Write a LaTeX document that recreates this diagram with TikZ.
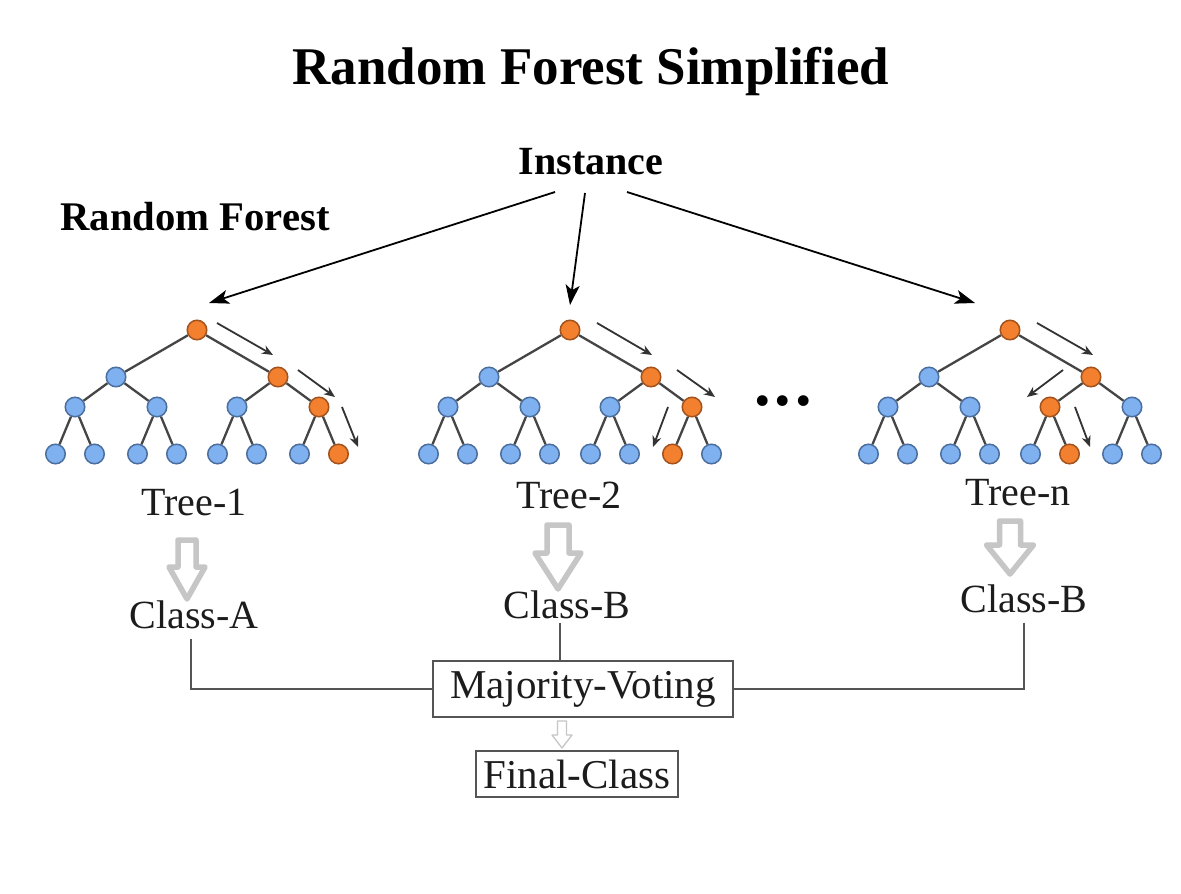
\documentclass[tikz,border=0pt]{standalone}
\usepackage{fontspec}
\setmainfont{Liberation Serif}
\usetikzlibrary{arrows.meta}
\definecolor{bfill}{HTML}{7FB0F0}
\definecolor{bline}{HTML}{4A6E9E}
\definecolor{ofill}{HTML}{F2802E}
\definecolor{oline}{HTML}{A3521E}
\definecolor{edgec}{HTML}{454545}
\definecolor{txt}{HTML}{1C1C1C}
\definecolor{hollow}{HTML}{C6C6C6}
\definecolor{linec}{HTML}{555555}
\tikzset{
  nd/.style={circle, draw=#1line, fill=#1fill, line width=1.5pt, minimum size=19.5pt, inner sep=0pt},
  edge/.style={draw=edgec, line width=2.3pt},
  walk/.style={draw=black!80, line width=1.8pt, -{Stealth[length=11pt,width=9pt]}},
  feed/.style={draw=black, line width=1.8pt, -{Stealth[length=20pt,width=14pt,inset=5pt]}},
  lbl/.style={font=\fontsize{40}{44}\selectfont, text=txt, inner sep=4pt, anchor=base},
  boldlbl/.style={font=\fontsize{40}{44}\selectfont\bfseries, text=black, inner sep=4pt, anchor=base},
  boxed/.style={draw=linec, line width=1.6pt, font=\fontsize{41}{45}\selectfont, text=txt, inner sep=0pt},
  bigarrow/.style={draw=hollow, line width=5.5pt, fill=white, line join=round},
  smallarrow/.style={draw=hollow, line width=1.3pt, fill=white, line join=round},
  conn/.style={draw=linec, line width=1.6pt},
}
% hollow arrow: style, cx, top, head start, tip, shaft half width, head half width
\newcommand\hollowarrow[7]{%
  \draw[#1] (#2-#6,#3) -- (#2+#6,#3) -- (#2+#6,#4) -- (#2+#7,#4) -- (#2,#5)
    -- (#2-#7,#4) -- (#2-#6,#4) -- cycle;}
% tree: prefix, root x, orange labels at levels 2,3,4
\newcommand\rftree[5]{%
  \foreach \rfl/\rfdx/\rfy in {r/0/330,0/-81/377,1/81/377,00/-122/407,01/-40/407,10/40/407,11/122/407,000/-141.5/454,001/-102.5/454,010/-59.5/454,011/-20.5/454,100/20.5/454,101/59.5/454,110/102.5/454,111/141.5/454}{%
    \edef\rfcur{\rfl}\def\rfa{#3}\def\rfb{#4}\def\rfc{#5}\def\rfr{r}%
    \def\rfcol{b}%
    \ifx\rfcur\rfr\def\rfcol{o}\fi
    \ifx\rfcur\rfa\def\rfcol{o}\fi
    \ifx\rfcur\rfb\def\rfcol{o}\fi
    \ifx\rfcur\rfc\def\rfcol{o}\fi
    \node[nd=\rfcol] (#1-\rfl) at (#2+\rfdx,\rfy) {};
  }
  \foreach \rfp/\rfq in {r/0,r/1,0/00,0/01,1/10,1/11,00/000,00/001,01/010,01/011,10/100,10/101,11/110,11/111}
    \draw[edge] (#1-\rfp) -- (#1-\rfq);
}
\begin{document}
\begin{tikzpicture}[x=1pt,y=-1pt]
\fill[white] (0,0) rectangle (1181,894);
\useasboundingbox (0,0) rectangle (1181,894);

\node[font=\fontsize{53}{58}\selectfont\bfseries, text=black, anchor=base] (title) at (591,84) {Random Forest Simplified};
\node[boldlbl] (inst) at (591,174) {Instance};
\node[boldlbl, font=\fontsize{40.7}{44}\selectfont\bfseries] (rf) at (195,230) {Random Forest};

% feed arrows from the instance
\foreach \n/\xa/\ya/\xb/\yb in {1/555/192/209/303, 2/585/193/570/305, 3/627/192/975/303}{
  \coordinate (fs\n) at (\xa,\ya);
  \coordinate (fe\n) at (\xb,\yb);
  \draw[feed] (fs\n) -- (fe\n);
}

\rftree{ta}{197}{1}{11}{111}
\rftree{tb}{570}{1}{11}{110}
\rftree{tn}{1010}{1}{10}{101}

% decision walk arrows
\foreach \n/\xa/\ya/\xb/\yb in {a1/217/323/273/355, a2/298/370/335/397, a3/342/407/358/447,
  b1/597/323/652/355, b2/677/370/715/397, b3/668/407/653/447,
  n1/1037/323/1093/355, n2/1063/370/1027/397, n3/1075/407/1090/447}{
  \coordinate (ws\n) at (\xa,\ya);
  \coordinate (we\n) at (\xb,\yb);
  \draw[walk] (ws\n) -- (we\n);
}

\node[font=\fontsize{66}{70}\selectfont\bfseries, text=black, inner sep=0pt] (dots) at (783,401) {.\hspace{4pt}.\hspace{4pt}.};

\node[lbl] (tree1) at (194,515) {Tree-1};
\node[lbl] (tree2) at (569,508) {Tree-2};
\node[lbl] (treen) at (1018,505) {Tree-n};

\hollowarrow{bigarrow}{187}{540}{567}{599}{9}{18}
\hollowarrow{bigarrow}{558}{525}{553}{589}{11}{23}
\hollowarrow{bigarrow}{1010}{521}{545}{574}{10.5}{23.5}

\node[lbl] (ca) at (194,628) {Class-A};
\node[lbl] (cb) at (567,618) {Class-B};
\node[lbl] (cn) at (1024,612) {Class-B};

\node[boxed, minimum width=300, minimum height=56] (mv) at (583,689) {Majority-Voting};
\node[boxed, minimum width=202, minimum height=46] (fc) at (577,774) {Final-Class};

\draw[conn, shorten <=6pt] ([xshift=-3]ca.south) |- (mv.west);
\draw[conn] ([xshift=-7]cb.south) -- ([xshift=-7]cb.south |- mv.north);
\draw[conn, shorten <=6pt] (cn.south) |- (mv.east);

\hollowarrow{smallarrow}{562}{721}{735}{748}{4.5}{10}
\end{tikzpicture}
\end{document}
